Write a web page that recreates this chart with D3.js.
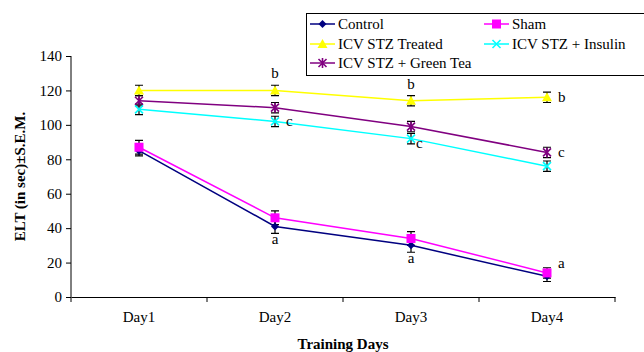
<!DOCTYPE html>
<html>
<head>
<meta charset="utf-8">
<script src="https://cdn.jsdelivr.net/npm/d3@7"></script>
<style>
  body { margin: 0; background: #fff; }
</style>
</head>
<body>
<div id="chart"></div>
<script>
// Data
const days = ["Day1", "Day2", "Day3", "Day4"];
const yTicks = [0, 20, 40, 60, 80, 100, 120, 140];

const control = [85, 41, 30, 12];
const controlErr = [3, 4, 4, 3];
const sham = [87, 46, 34, 14];
const shamErr = [4, 4, 4, 3];
const treated = [120, 120, 114, 116];
const treatedErr = [3, 3, 3, 3];
const insulin = [109, 102, 92, 76];
const insulinErr = [3, 3, 3, 3];
const greenTea = [114, 110, 99, 84];
const greenTeaErr = [3, 3, 3, 3];

// significance letters
const notes = [
    { day: 1, v: 120, t: "b", pos: "above" },
    { day: 2, v: 114, t: "b", pos: "above" },
    { day: 3, v: 116, t: "b", pos: "right" },
    { day: 1, v: 102, t: "c", pos: "right" },
    { day: 2, v: 92, t: "c", pos: "rightlow" },
    { day: 3, v: 84, t: "c", pos: "right" },
    { day: 1, v: 41, t: "a", pos: "below" },
    { day: 2, v: 30, t: "a", pos: "below" },
    { day: 3, v: 14, t: "a", pos: "rightup" }
];

const series = [
    { name: "Control", values: control, err: controlErr, color: "#000080", marker: "diamond" },
    { name: "Sham", values: sham, err: shamErr, color: "#FF00FF", marker: "square" },
    { name: "ICV STZ Treated", values: treated, err: treatedErr, color: "#FFFF00", marker: "triangle" },
    { name: "ICV STZ + Insulin", values: insulin, err: insulinErr, color: "#00FFFF", marker: "x" },
    { name: "ICV STZ + Green Tea", values: greenTea, err: greenTeaErr, color: "#800080", marker: "star" }
];

const W = 644, H = 352;
const margin = { top: 56, right: 29, bottom: 55, left: 71 };
const width = W - margin.left - margin.right;
const height = H - margin.top - margin.bottom;
const FS = 15;
const FONT = "'Liberation Serif', 'Times New Roman', serif";

const svg = d3.select("#chart").append("svg")
    .attr("width", W).attr("height", H);
const g = svg.append("g")
    .attr("transform", "translate(" + margin.left + "," + margin.top + ")");

const x = d3.scaleBand().domain(days).range([0, width]);
const y = d3.scaleLinear().domain([0, 140]).range([height, 0]);
const cx = d => x(d) + x.bandwidth() / 2;

// axes
const xAxis = g.append("g")
    .attr("transform", "translate(0," + height + ")")
    .call(d3.axisBottom(x).tickSize(0).tickPadding(14));
xAxis.attr("font-size", FS);
xAxis.select(".domain").attr("stroke", "#000");
// tick marks at band boundaries
g.append("g").selectAll("line")
    .data(days.concat(["end"]))
    .join("line")
    .attr("x1", (d, i) => i * x.step()).attr("x2", (d, i) => i * x.step())
    .attr("y1", height).attr("y2", height + 5)
    .attr("stroke", "#000");

const yAxis = g.append("g")
    .call(d3.axisLeft(y).tickValues(yTicks).tickSize(5).tickPadding(4));
yAxis.attr("font-size", FS);
yAxis.select(".domain").attr("d", "M0," + height + "V0");

// axis titles
svg.append("text")
    .attr("x", margin.left + width / 2).attr("y", 349)
    .attr("text-anchor", "middle")
    .attr("font-weight", "bold").attr("font-size", FS)
    .text("Training Days");
svg.append("text")
    .attr("transform", "translate(25," + (margin.top + height / 2) + ") rotate(-90)")
    .attr("text-anchor", "middle")
    .attr("font-weight", "bold").attr("font-size", FS)
    .text("ELT (in sec)±S.E.M.");

// marker drawing
function drawMarker(sel, type, color) {
    if (type === "diamond") {
        sel.append("path").attr("d", "M0,-4L4,0L0,4L-4,0Z").attr("fill", color);
    } else if (type === "square") {
        sel.append("rect").attr("x", -4.5).attr("y", -4.5).attr("width", 9).attr("height", 9).attr("fill", color);
    } else if (type === "triangle") {
        sel.append("path").attr("d", "M0,-5L5,4L-5,4Z").attr("fill", color);
    } else if (type === "x") {
        sel.append("path").attr("d", "M-4,-4L4,4M-4,4L4,-4").attr("stroke", color).attr("stroke-width", 1.6);
    } else if (type === "star") {
        sel.append("path").attr("d", "M-4,-4L4,4M-4,4L4,-4M0,-5V5").attr("stroke", color).attr("stroke-width", 1.6);
    }
}

const line = d3.line()
    .x((d, i) => cx(days[i]))
    .y(d => y(d));

series.forEach(s => {
    // error bars
    const eb = g.append("g");
    s.values.forEach((v, i) => {
        const px = cx(days[i]);
        const top = y(v + s.err[i]), bot = y(v - s.err[i]);
        eb.append("path")
            .attr("d", "M" + px + "," + top + "V" + bot +
                "M" + (px - 4) + "," + top + "H" + (px + 4) +
                "M" + (px - 4) + "," + bot + "H" + (px + 4))
            .attr("stroke", "#000").attr("stroke-width", 1.2).attr("fill", "none");
    });
});

series.forEach(s => {
    g.append("path")
        .datum(s.values)
        .attr("d", line)
        .attr("fill", "none")
        .attr("stroke", s.color)
        .attr("stroke-width", 1.5);
    s.values.forEach((v, i) => {
        const m = g.append("g").attr("transform", "translate(" + cx(days[i]) + "," + y(v) + ")");
        drawMarker(m, s.marker, s.color);
    });
});

// significance letters
notes.forEach(n => {
    let px = cx(days[n.day]), py = y(n.v);
    let anchor = "middle";
    if (n.pos === "above") { py -= 12; }
    else if (n.pos === "below") { py += 18; }
    else if (n.pos === "right") { px += 11; py += 5; anchor = "start"; }
    else if (n.pos === "rightlow") { px += 5; py += 9; anchor = "start"; }
    else if (n.pos === "rightup") { px += 11; py -= 5; anchor = "start"; }
    g.append("text")
        .attr("x", px).attr("y", py)
        .attr("text-anchor", anchor)
        .attr("font-size", FS)
        .text(n.t);
});

// legend
const legend = svg.append("g");
legend.append("rect")
    .attr("x", 306.5).attr("y", 13.5)
    .attr("width", 345).attr("height", 62)
    .attr("fill", "#fff").attr("stroke", "#000").attr("stroke-width", 1);
const legPos = [[310, 24], [484, 24], [310, 44], [484, 44], [310, 63]];
series.forEach((s, i) => {
    const [lx, ly] = legPos[i];
    legend.append("line")
        .attr("x1", lx).attr("x2", lx + 25).attr("y1", ly).attr("y2", ly)
        .attr("stroke", s.color).attr("stroke-width", 1.5);
    const m = legend.append("g").attr("transform", "translate(" + (lx + 12.5) + "," + ly + ")");
    drawMarker(m, s.marker, s.color);
    legend.append("text")
        .attr("x", lx + 28).attr("y", ly + 5)
        .attr("font-size", FS)
        .text(s.name);
});

// serif type everywhere, as in the original
svg.selectAll("text").style("font-family", FONT).attr("fill", "#000");
</script>
</body>
</html>
